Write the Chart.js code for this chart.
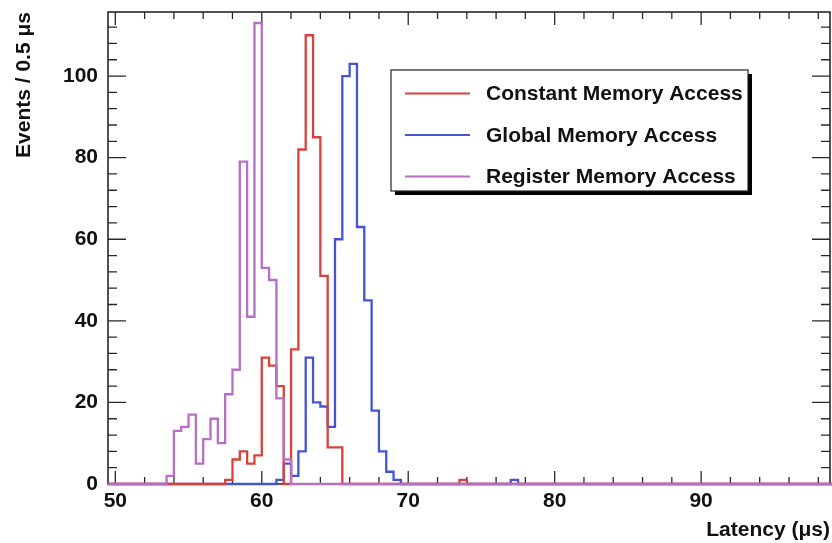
<!DOCTYPE html>
<html>
<head>
<meta charset="utf-8">
<script src="https://cdn.jsdelivr.net/npm/chart.js@4.4.1/dist/chart.umd.min.js"></script>
<style>
  html, body { margin: 0; padding: 0; background: #ffffff; }
  #wrap { width: 832px; height: 543px; position: relative; }
</style>
</head>
<body>
<div id="wrap"><canvas id="chart"></canvas></div>
<script>
// Latency histograms, 0.5 µs bins; bin i covers [BIN_START + i*BIN_WIDTH, BIN_START + (i+1)*BIN_WIDTH)
const BIN_START = 49.5;
const BIN_WIDTH = 0.5;

const seriesLabels = ['Constant Memory Access', 'Global Memory Access', 'Register Memory Access'];
const seriesColors = ['#d8423a', '#4553d6', '#b66fc4'];

const constantCounts = [
  0, 0, 0, 0, 0, 0, 0, 0, 0, 0,
  0, 0, 0, 0, 0, 0, 1, 6, 8, 5,
  7, 31, 29, 24, 0, 33, 82, 110, 85, 51,
  9, 9, 0, 0, 0, 0, 0, 0, 0, 0,
  0, 0, 0, 0, 0, 0, 0, 0, 1, 0,
  0, 0, 0, 0, 0, 0, 0, 0, 0, 0,
  0, 0, 0, 0, 0, 0, 0, 0, 0, 0,
  0, 0, 0, 0, 0, 0, 0, 0, 0, 0,
  0, 0, 0, 0, 0, 0, 0, 0, 0, 0,
  0, 0, 0, 0, 0, 0, 0, 0, 0
];

const globalCounts = [
  0, 0, 0, 0, 0, 0, 0, 0, 0, 0,
  0, 0, 0, 0, 0, 0, 0, 0, 0, 0,
  0, 0, 0, 1, 5, 2, 8, 31, 20, 19,
  14, 60, 100, 103, 63, 45, 18, 8, 3, 1,
  0, 0, 0, 0, 0, 0, 0, 0, 0, 0,
  0, 0, 0, 0, 0, 1, 0, 0, 0, 0,
  0, 0, 0, 0, 0, 0, 0, 0, 0, 0,
  0, 0, 0, 0, 0, 0, 0, 0, 0, 0,
  0, 0, 0, 0, 0, 0, 0, 0, 0, 0,
  0, 0, 0, 0, 0, 0, 0, 0, 0
];

const registerCounts = [
  0, 0, 0, 0, 0, 0, 0, 0, 2, 13,
  14, 17, 5, 11, 16, 10, 22, 28, 79, 41,
  113, 53, 50, 21, 6, 0, 0, 0, 0, 0,
  0, 0, 0, 0, 0, 0, 0, 0, 0, 0,
  0, 0, 0, 0, 0, 0, 0, 0, 0, 0,
  0, 0, 0, 0, 0, 0, 0, 0, 0, 0,
  0, 0, 0, 0, 0, 0, 0, 0, 0, 0,
  0, 0, 0, 0, 0, 0, 0, 0, 0, 0,
  0, 0, 0, 0, 0, 0, 0, 0, 0, 0,
  0, 0, 0, 0, 0, 0, 0, 0, 0
];

const xTickValues = [50, 60, 70, 80, 90];
const yTickValues = [0, 20, 40, 60, 80, 100];
const X_MIN = 49.5, X_MAX = 98.8;
const Y_MIN = 0, Y_MAX = 115.7;
const X_MINOR_STEP = 2, X_MAJOR_STEP = 10;
const Y_MINOR_STEP = 4, Y_MAJOR_STEP = 20;

const FONT = '"Liberation Sans", Arial, Helvetica, sans-serif';

// Turn bin counts into step points: each point holds its value up to the next bin edge
function histPoints(counts) {
  const pts = counts.map((v, i) => ({ x: BIN_START + i * BIN_WIDTH, y: v }));
  pts.push({ x: BIN_START + counts.length * BIN_WIDTH, y: counts[counts.length - 1] });
  return pts;
}

function histDataset(label, counts, color, order) {
  return {
    label: label,
    data: histPoints(counts),
    borderColor: color,
    backgroundColor: color,
    borderWidth: 2.3,
    pointRadius: 0,
    pointHoverRadius: 0,
    stepped: true,
    fill: false,
    tension: 0,
    clip: false,
    order: order
  };
}

// Frame with inward ticks on all four sides
const framePlugin = {
  id: 'frame',
  beforeDatasetsDraw(chart) {
    const { ctx, chartArea: a, scales } = chart;
    const xs = scales.x, ys = scales.y;
    ctx.save();
    ctx.strokeStyle = '#1a1a1a';
    ctx.lineWidth = 1.5;
    ctx.strokeRect(a.left, a.top, a.right - a.left, a.bottom - a.top);
    ctx.lineWidth = 1.3;
    ctx.strokeStyle = '#2a2a2a';
    ctx.beginPath();
    for (let v = Math.ceil(X_MIN / X_MINOR_STEP) * X_MINOR_STEP; v <= X_MAX; v += X_MINOR_STEP) {
      const px = xs.getPixelForValue(v);
      const len = (v % X_MAJOR_STEP === 0) ? 13 : 7;
      ctx.moveTo(px, a.bottom); ctx.lineTo(px, a.bottom - len);
      ctx.moveTo(px, a.top); ctx.lineTo(px, a.top + len);
    }
    for (let v = Y_MIN; v <= Y_MAX; v += Y_MINOR_STEP) {
      const py = ys.getPixelForValue(v);
      const len = (v % Y_MAJOR_STEP === 0) ? 18 : 9;
      ctx.moveTo(a.left, py); ctx.lineTo(a.left + len, py);
      ctx.moveTo(a.right, py); ctx.lineTo(a.right - len, py);
    }
    ctx.stroke();
    ctx.restore();
  }
};

// Boxed legend with a drop shadow
const boxLegendPlugin = {
  id: 'boxLegend',
  afterDraw(chart) {
    const { ctx } = chart;
    const box = { x: 391, y: 70, w: 357, h: 121 };
    const shadow = 4;
    ctx.save();
    ctx.fillStyle = '#000000';
    ctx.fillRect(box.x + shadow, box.y + shadow, box.w, box.h);
    ctx.fillStyle = '#ffffff';
    ctx.fillRect(box.x, box.y, box.w, box.h);
    ctx.strokeStyle = '#222222';
    ctx.lineWidth = 1.2;
    ctx.strokeRect(box.x, box.y, box.w, box.h);
    const rowY = [93.5, 135, 176.5];
    ctx.font = 'bold 21px ' + FONT;
    ctx.textBaseline = 'middle';
    ctx.textAlign = 'left';
    chart.data.datasets.forEach((ds, i) => {
      ctx.strokeStyle = ds.borderColor;
      ctx.lineWidth = 2;
      ctx.beginPath();
      ctx.moveTo(405, rowY[i]);
      ctx.lineTo(470, rowY[i]);
      ctx.stroke();
      ctx.fillStyle = '#111111';
      ctx.fillText(ds.label, 486, rowY[i] + 1);
    });
    ctx.restore();
  }
};

new Chart(document.getElementById('chart'), {
  type: 'line',
  data: {
    datasets: [
      histDataset(seriesLabels[0], constantCounts, seriesColors[0], 1),
      histDataset(seriesLabels[1], globalCounts, seriesColors[1], 2),
      histDataset(seriesLabels[2], registerCounts, seriesColors[2], 0)
    ]
  },
  options: {
    responsive: true,
    maintainAspectRatio: false,
    animation: false,
    events: [],
    layout: { padding: { top: 12, right: 2, left: 0, bottom: 0 } },
    plugins: {
      legend: { display: false },
      tooltip: { enabled: false }
    },
    scales: {
      x: {
        type: 'linear',
        min: X_MIN,
        max: X_MAX,
        afterBuildTicks(scale) { scale.ticks = xTickValues.map(v => ({ value: v })); },
        afterFit(scale) { scale.height = 59; scale.paddingLeft = 0; scale.paddingRight = 0; },
        grid: { display: false, drawTicks: false },
        border: { display: false },
        ticks: {
          padding: 5,
          color: '#111111',
          font: { family: FONT, size: 21, weight: 'bold' },
          maxRotation: 0,
          autoSkip: false
        },
        title: {
          display: true,
          text: 'Latency (μs)',
          align: 'end',
          color: '#111111',
          padding: { top: 0, bottom: 0 },
          font: { family: FONT, size: 21, weight: 'bold' }
        }
      },
      y: {
        type: 'linear',
        min: Y_MIN,
        max: Y_MAX,
        afterBuildTicks(scale) { scale.ticks = yTickValues.map(v => ({ value: v })); },
        afterFit(scale) { scale.width = 108; scale.paddingTop = 0; scale.paddingBottom = 0; },
        grid: { display: false, drawTicks: false },
        border: { display: false },
        ticks: {
          padding: 10,
          color: '#111111',
          font: { family: FONT, size: 21, weight: 'bold' },
          autoSkip: false
        },
        title: {
          display: true,
          text: 'Events / 0.5 μs',
          align: 'end',
          color: '#111111',
          padding: { top: 12, bottom: 0 },
          font: { family: FONT, size: 21, weight: 'bold' }
        }
      }
    }
  },
  plugins: [framePlugin, boxLegendPlugin]
});
</script>
</body>
</html>
